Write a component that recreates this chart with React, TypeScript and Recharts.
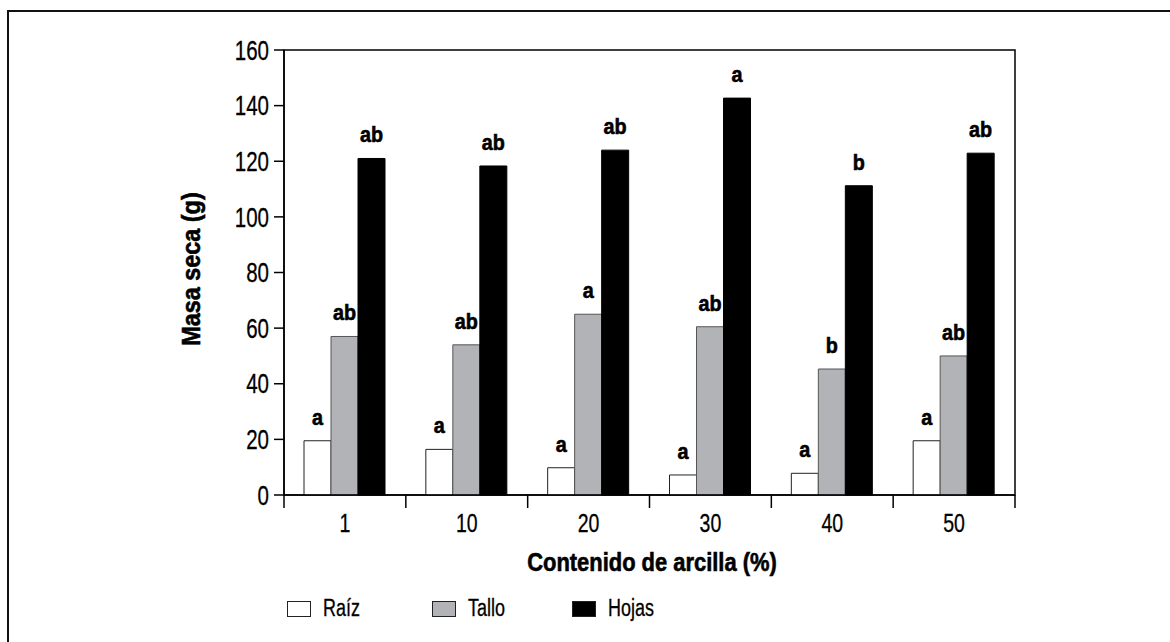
import React from 'react';
import { BarChart, Bar, XAxis, YAxis, ReferenceArea, LabelList, Legend } from 'recharts';

const categories = ['1', '10', '20', '30', '40', '50'];
const raiz = [19.5, 16.4, 9.8, 7.2, 7.8, 19.5];
const tallo = [57, 54, 65, 60.5, 45.3, 50];
const hojas = [121, 118.3, 124, 142.7, 111.2, 122.9];
const raizLetters = ['a', 'a', 'a', 'a', 'a', 'a'];
const talloLetters = ['ab', 'ab', 'a', 'ab', 'b', 'ab'];
const hojasLetters = ['ab', 'ab', 'ab', 'a', 'b', 'ab'];
const yTicks = [0, 20, 40, 60, 80, 100, 120, 140, 160];

const data = categories.map((c, i) => ({
  cat: c,
  raiz: raiz[i],
  tallo: tallo[i],
  hojas: hojas[i],
  lr: raizLetters[i],
  lt: talloLetters[i],
  lh: hojasLetters[i],
}));

const FONT = '"Liberation Sans", Arial, sans-serif';

const CText = ({ x, y, sx, anchor, size, weight, rotate, dy, thick, children }: any) => (
  <text
    transform={`translate(${x} ${y})${rotate ? ` rotate(${rotate})` : ''} scale(${sx} 1)`}
    textAnchor={anchor}
    fontFamily={FONT}
    fontSize={size}
    fontWeight={weight || 'normal'}
    dy={dy}
    fill="#000"
    stroke="#000"
    strokeWidth={thick || 0.3}
  >
    {children}
  </text>
);

const legendItems = [
  { name: 'Raíz', fill: '#ffffff', width: 145 },
  { name: 'Tallo', fill: '#b2b3b7', width: 140 },
  { name: 'Hojas', fill: '#000000', width: 100 },
];

const renderLegend = () => (
  <div style={{ display: 'flex', alignItems: 'center', fontFamily: FONT, fontSize: 23 }}>
    {legendItems.map((it) => (
      <div key={it.name} style={{ display: 'flex', alignItems: 'center', width: it.width }}>
        <div style={{ width: 22, height: 14, background: it.fill, border: '1px solid #222', marginRight: 12, flexShrink: 0 }} />
        <span
          style={{
            color: '#000',
            display: 'inline-block',
            transform: 'scaleX(0.78)',
            transformOrigin: 'left center',
            whiteSpace: 'nowrap',
            WebkitTextStroke: '0.3px #000',
          }}
        >
          {it.name}
        </span>
      </div>
    ))}
  </div>
);

const CatTick = (props: any) => {
  const { x, y, payload, index } = props;
  const half = payload && payload.offset ? payload.offset : 0;
  const axisY = y - 18;
  const last = index === categories.length - 1;
  return (
    <g>
      <line x1={x - half} x2={x - half} y1={axisY} y2={axisY + 13} stroke="#000" strokeWidth={1.5} />
      {last ? <line x1={x + half} x2={x + half} y1={axisY} y2={axisY + 13} stroke="#000" strokeWidth={1.5} /> : null}
      <CText x={x} y={y + 19} sx={0.75} anchor="middle" size={26}>
        {payload.value}
      </CText>
    </g>
  );
};

const ValTick = (props: any) => {
  const { x, y, payload } = props;
  return (
    <CText x={x} y={y} sx={0.76} anchor="end" size={27} dy="0.36em">
      {payload.value}
    </CText>
  );
};

const letterLabel = (props: any) => {
  const { x, y, width, value } = props;
  return (
    <CText x={Number(x) + Number(width) / 2} y={Number(y) - 16} sx={0.9} anchor="middle" size={22} weight="bold" thick={0.6}>
      {value}
    </CText>
  );
};

export default function App() {
  return (
    <div style={{ position: 'absolute', left: 0, top: 0, width: 1170, height: 642, background: '#fff', overflow: 'hidden' }}>
      <div style={{ position: 'absolute', left: 7, top: 10, width: 1170, height: 700, borderTop: '2px solid #111', borderLeft: '2px solid #111' }} />
      <div style={{ position: 'absolute', left: 0, top: 0 }}>
        <BarChart
          width={1170}
          height={642}
          data={data}
          margin={{ top: 50, right: 155, bottom: 107, left: 224 }}
          barCategoryGap={20}
          barGap={0}
        >
          <XAxis
            dataKey="cat"
            height={40}
            tickLine={false}
            tickSize={13}
            tickMargin={5}
            interval={0}
            axisLine={{ stroke: '#000', strokeWidth: 1.5 }}
            tick={<CatTick />}
            label={{
              content: () => (
                <CText x={652} y={571} sx={0.86} anchor="middle" size={25.5} weight="bold" thick={0.6}>
                  Contenido de arcilla (%)
                </CText>
              ),
            }}
          />
          <YAxis
            width={60}
            domain={[0, 160]}
            ticks={yTicks}
            interval={0}
            tickSize={10}
            tickMargin={5}
            axisLine={{ stroke: '#000', strokeWidth: 1.5 }}
            tickLine={{ stroke: '#000', strokeWidth: 1.5 }}
            tick={<ValTick />}
            label={{
              content: () => (
                <CText x={200} y={269} rotate={-90} sx={0.9} anchor="middle" size={26} weight="bold" thick={0.6}>
                  Masa seca (g)
                </CText>
              ),
            }}
          />
          <ReferenceArea y1={0} y2={160} fill="none" stroke="#000" strokeWidth={1.5} ifOverflow="visible" />
          <Legend
            layout="horizontal"
            verticalAlign="middle"
            align="center"
            content={renderLegend}
            wrapperStyle={{ left: 287, top: 595, width: 500, height: 28 }}
          />
          <Bar dataKey="raiz" name="Raíz" fill="#ffffff" stroke="#222" strokeWidth={1} isAnimationActive={false}>
            <LabelList dataKey="lr" content={letterLabel} />
          </Bar>
          <Bar dataKey="tallo" name="Tallo" fill="#b2b3b7" stroke="#555" strokeWidth={1} isAnimationActive={false}>
            <LabelList dataKey="lt" content={letterLabel} />
          </Bar>
          <Bar dataKey="hojas" name="Hojas" fill="#000000" stroke="#000" strokeWidth={1} isAnimationActive={false}>
            <LabelList dataKey="lh" content={letterLabel} />
          </Bar>
        </BarChart>
      </div>
    </div>
  );
}
